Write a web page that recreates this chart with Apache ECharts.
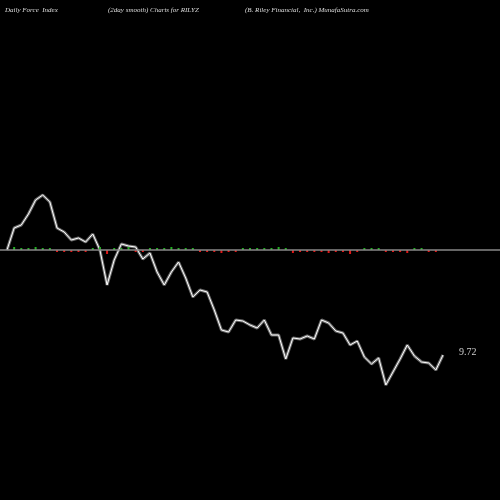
<html>
<head>
<script src="https://cdn.jsdelivr.net/npm/echarts@6/dist/echarts.min.js"></script>
</head>
<body style="margin:0;background:#000">
<div id="main" style="width:500px;height:500px;"></div>
<script type="text/javascript">
// force index (2day smooth), arbitrary units, 0 = baseline
var forceIdx = [0, 22, 25, 36, 50, 55, 48, 22, 18, 10, 12, 8, 16, 0, -35, -10, 6, 4, 3, -9, -3, -22, -35, -22, -12, -28, -47, -40, -42, -60, -80, -82, -70, -71, -75, -78, -70, -85, -85, -109, -88, -89, -86, -89, -70, -73, -81, -83, -95, -91, -107, -114, -108, -135, -122, -109, -95, -106, -112, -113, -120, -105];
// small daily bars near baseline
var dailyBars = [0, 3, 2, 2, 3, 2, 2, -2, -2, -2, -2, -2, 2, 3, -4, 2, 2, 3, -2, -2, 2, 2, 2, 3, 2, 2, 2, -2, -2, -2, -3, -2, -2, 2, 2, 2, 2, 2, 3, 2, -3, -2, -2, -2, -2, -3, -2, -2, -4, -2, 2, 2, 2, -2, -2, -2, -3, 2, 2, -2, -2, 0];
var lastLabel = '9.72';
var cats = forceIdx.map(function (v, i) { return i; });

var chart = echarts.init(document.getElementById('main'));
var ttl = { color: '#ddd', fontFamily: 'Liberation Serif', fontStyle: 'italic', fontSize: 7, fontWeight: 'normal' };
chart.setOption({
    backgroundColor: '#000',
    animation: false,
    title: [
        { text: 'Daily Force  Index', left: 0, top: 0, textStyle: ttl },
        { text: '(2day smooth) Charts for RILYZ', left: 103, top: 0, textStyle: ttl },
        { text: '(B. Riley Financial,  Inc.) MunafaSutra.com', left: 240, top: 0, textStyle: ttl }
    ],
    grid: { left: 7, width: 436, top: 0, height: 500 },
    xAxis: { type: 'category', data: cats, boundaryGap: false, show: false },
    yAxis: { type: 'value', min: -250, max: 250, show: false },
    series: [
        {
            type: 'line', data: forceIdx, symbol: 'none', z: 1, lineStyle: { color: '#6a6a6a', width: 3 },
            markLine: {
                symbol: 'none', silent: true, label: { show: false },
                lineStyle: { color: '#888', width: 1.5, type: 'solid' },
                data: [[{ x: 0, yAxis: 0 }, { x: 500, yAxis: 0 }]]
            }
        },
        {
            type: 'line', data: forceIdx, symbol: 'none', z: 2, lineStyle: { color: '#fff', width: 1 },
            endLabel: { show: true, formatter: lastLabel, color: '#ccc', fontFamily: 'Liberation Serif', fontSize: 10, offset: [8, -3] }
        },
        {
            type: 'bar', data: dailyBars, barWidth: 2, silent: true, z: 3,
            itemStyle: { color: function (p) { return p.value >= 0 ? '#22b022' : '#e01818'; } }
        }
    ]
});
</script>
</body>
</html>
